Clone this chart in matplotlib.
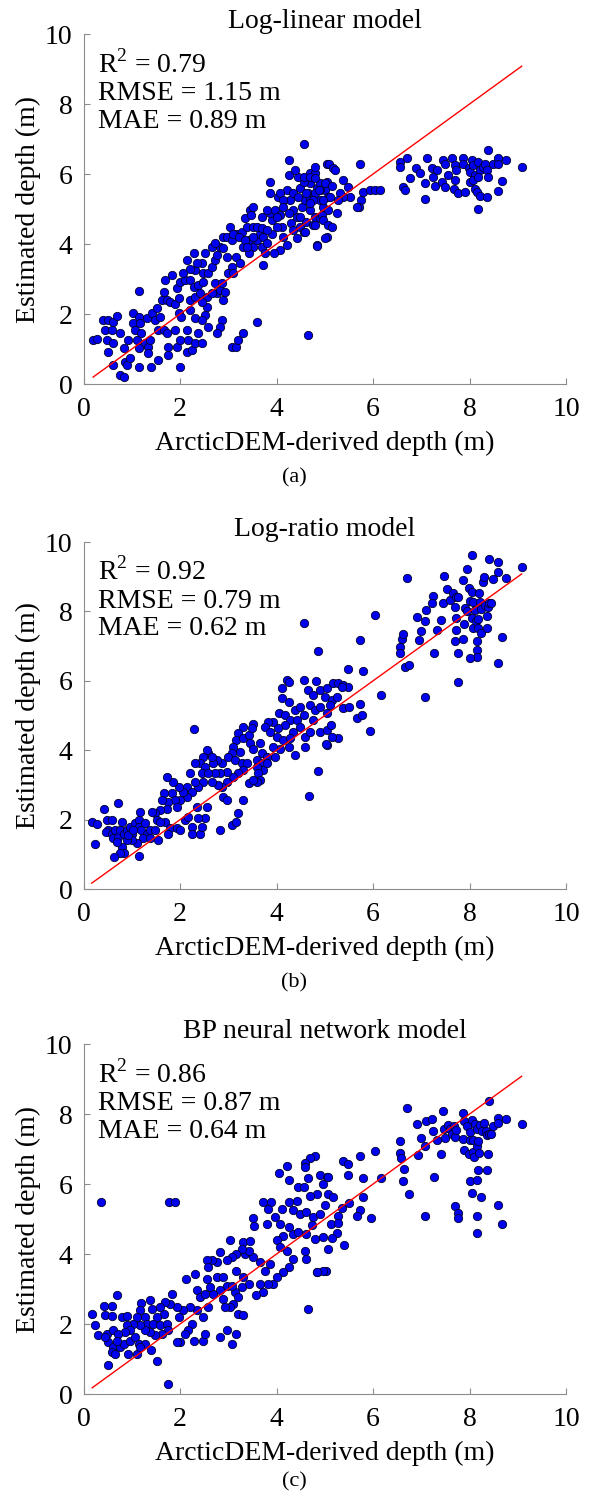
import numpy as np
import matplotlib
matplotlib.use('Agg')
import matplotlib.pyplot as plt

plt.rcParams['font.family'] = ['Liberation Serif', 'DejaVu Serif']
plt.rcParams['mathtext.fontset'] = 'custom'
plt.rcParams['mathtext.rm'] = 'Liberation Serif'

# panel titles and stats
titles = ['Log-linear model', 'Log-ratio model', 'BP neural network model']
r2_vals = ['0.79', '0.92', '0.86']
rmse_vals = ['1.15', '0.79', '0.87']
mae_vals = ['0.89', '0.62', '0.64']
panel_tags = ['(a)', '(b)', '(c)']
ticks = [0, 2, 4, 6, 8, 10]

# (ArcticDEM depth, estimated depth)
loglin_pts = [
    (0.2, 1.26), (0.27, 1.3), (0.41, 1.83), (0.51, 1.83), (0.62, 1.78), (0.7, 1.94), (0.45, 1.54),
    (0.58, 1.54), (0.76, 1.45), (0.48, 1.26), (0.62, 1.16), (0.51, 0.92), (0.62, 0.54), (0.76, 0.26),
    (0.83, 0.21), (0.86, 0.64), (0.9, 0.54), (0.96, 0.73), (0.83, 1.02), (0.93, 1.26), (1.03, 2.02),
    (1.14, 1.92), (1.03, 1.75), (1.17, 1.73), (1.07, 1.54), (1.2, 1.45), (1.1, 1.26), (1.27, 1.16),
    (1.14, 1.02), (1.34, 1.07), (1.38, 1.26), (1.31, 1.88), (1.41, 2.02), (1.52, 2.16), (1.48, 1.83),
    (1.59, 1.92), (1.55, 1.54), (1.66, 1.54), (1.72, 1.45), (1.34, 0.88), (1.14, 0.5), (1.4, 0.5),
    (1.55, 0.69), (1.62, 2.4), (1.72, 2.4), (1.66, 2.64), (1.83, 3.11), (1.69, 2.97), (1.79, 2.35),
    (1.9, 2.3), (1.97, 2.45), (1.93, 2.73), (2.0, 2.92), (2.1, 2.97), (2.21, 2.97), (1.97, 2.02),
    (2.03, 1.92), (1.9, 1.54), (1.76, 1.07), (1.76, 0.83), (1.93, 1.07), (2.0, 1.26), (2.14, 1.54),
    (2.17, 1.26), (2.0, 0.5), (2.14, 0.92), (2.24, 0.97), (2.31, 1.16), (2.45, 1.16), (2.38, 1.45),
    (2.31, 1.88), (2.21, 2.11), (2.21, 2.4), (2.31, 2.5), (2.41, 2.59), (2.28, 2.78), (2.38, 2.83),
    (2.48, 2.92), (2.31, 3.26), (2.45, 3.45), (2.52, 3.73), (2.28, 3.73), (2.14, 3.54), (2.48, 3.17),
    (2.59, 3.17), (2.66, 3.35), (2.72, 3.54), (2.72, 2.88), (2.55, 2.5), (2.55, 2.21), (2.52, 1.97),
    (2.59, 1.64), (2.45, 1.83), (2.76, 2.59), (2.83, 2.69), (2.9, 2.4), (2.93, 2.64), (2.86, 1.83),
    (2.83, 1.64), (2.76, 1.45), (3.07, 1.07), (3.17, 1.07), (3.21, 1.26), (3.31, 1.45), (3.59, 1.78),
    (4.66, 1.4), (1.14, 2.67),
    (2.76, 3.69), (2.83, 3.92), (2.9, 4.21), (3.04, 4.5), (2.97, 3.64), (3.07, 3.35), (3.0, 3.17),
    (3.1, 3.17), (3.17, 3.64), (3.24, 3.45), (3.31, 3.92), (3.17, 4.3), (3.28, 4.35), (3.38, 4.5),
    (3.35, 4.73), (3.45, 4.97), (3.52, 5.07), (3.48, 4.83), (3.52, 4.5), (3.42, 4.11), (3.52, 3.92),
    (3.59, 4.11), (3.66, 4.3), (3.73, 4.21), (3.69, 3.92), (3.76, 3.73), (3.8, 4.02), (3.9, 4.3),
    (3.9, 4.68), (3.87, 4.88), (3.87, 5.45), (3.87, 5.78), (3.97, 4.97), (4.04, 5.35), (4.07, 4.83),
    (4.11, 4.5), (4.14, 4.21), (4.21, 3.97), (4.07, 3.83), (3.94, 3.73), (3.73, 3.4), (3.42, 3.73),
    (4.21, 5.54), (4.28, 5.26), (4.35, 4.97), (4.42, 4.78), (4.31, 4.59), (4.35, 4.4), (4.49, 4.5),
    (4.42, 4.16), (4.52, 5.07), (4.59, 5.26), (4.66, 5.45), (4.69, 5.73), (4.76, 5.97), (4.83, 5.59),
    (4.9, 5.26), (4.97, 5.07), (4.8, 4.78), (4.62, 4.64), (4.76, 4.54), (4.83, 3.97), (5.04, 4.21),
    (4.49, 5.59), (4.56, 5.78), (4.45, 5.92), (4.69, 6.02), (4.8, 6.02), (4.9, 5.73), (5.0, 5.54),
    (5.04, 5.78), (5.07, 5.35), (5.07, 4.97), (4.07, 5.45),
    (4.56, 6.85), (4.25, 6.4), (4.25, 5.97), (4.38, 6.11), (5.05, 6.3),
    (2.97, 4.21), (3.07, 4.11), (3.1, 4.3), (3.23, 4.21), (3.35, 4.11), (3.38, 3.92), (3.59, 4.5),
    (3.69, 4.45), (3.8, 4.4), (4.0, 4.5), (3.69, 4.78), (3.8, 4.97), (3.52, 4.21), (2.9, 3.88),
    (2.66, 3.92), (2.73, 4.02), (2.35, 3.45), (2.21, 3.3), (2.07, 3.17), (2.45, 2.35), (2.86, 2.88),
    (2.66, 2.59), (4.35, 5.45), (4.45, 5.35), (4.69, 5.26), (4.8, 5.45), (4.9, 5.54), (4.69, 4.97),
    (4.9, 4.73), (4.49, 4.78), (4.14, 5.26), (4.14, 5.07), (4.25, 4.88), (4.0, 4.78),
    (4.8, 6.21), (5.08, 6.3), (5.18, 6.16), (5.21, 6.11), (4.56, 5.92), (4.69, 5.92), (4.8, 5.88),
    (5.0, 5.73), (5.14, 5.66), (5.38, 5.83), (5.49, 5.62), (5.73, 6.3), (5.8, 5.5), (5.94, 5.54),
    (6.04, 5.54), (6.14, 5.54), (5.76, 5.26), (5.7, 5.07), (5.66, 5.05), (5.52, 5.33), (5.38, 5.35),
    (5.31, 5.45), (5.28, 5.26), (5.25, 4.88), (5.11, 5.35), (4.97, 5.26), (4.94, 4.83), (4.97, 4.69),
    (5.07, 4.54), (5.14, 4.5), (4.8, 4.54), (4.56, 4.35), (4.59, 4.35), (5.01, 4.16), (4.83, 3.95),
    (4.76, 5.26), (4.87, 5.54), (4.62, 5.45), (4.69, 5.16),
    (6.56, 6.35), (6.56, 6.21), (6.71, 6.45), (6.76, 5.88), (6.63, 5.62), (6.67, 5.54), (6.9, 6.16),
    (6.97, 6.02), (7.11, 6.45), (7.08, 5.73), (7.08, 5.28), (7.22, 6.16), (7.32, 6.11), (7.25, 5.92),
    (7.29, 5.66), (7.42, 5.78), (7.46, 6.4), (7.49, 6.3), (7.49, 5.62), (7.56, 5.97), (7.63, 6.45),
    (7.7, 6.26), (7.73, 6.11), (7.7, 5.83), (7.68, 5.56), (7.77, 5.45), (7.87, 6.45), (7.87, 6.3),
    (7.91, 5.5), (7.98, 6.16), (8.01, 6.06), (8.01, 5.78), (8.05, 6.4), (8.08, 6.26), (8.11, 5.97),
    (8.08, 5.83), (8.11, 5.56), (8.15, 5.5), (8.18, 6.35), (8.22, 6.11), (8.18, 5.92), (8.22, 5.37),
    (8.18, 5.01), (8.28, 6.21), (8.32, 6.3), (8.36, 6.11), (8.39, 5.92), (8.39, 6.69), (8.49, 6.3),
    (8.36, 5.35), (8.6, 6.45), (8.6, 6.3), (8.67, 5.81), (8.58, 5.52), (8.75, 6.4), (9.08, 6.21),
]

logratio_pts = [
    (4.57, 7.66), (4.85, 6.86), (4.11, 5.78), (4.21, 6.02), (4.25, 5.98), (4.57, 6.02), (4.82, 5.99),
    (4.66, 5.75), (4.76, 5.59), (4.9, 5.75), (5.04, 5.78), (5.0, 5.54), (4.11, 5.52), (4.25, 5.4),
    (4.06, 5.06), (4.18, 5.01), (4.28, 4.87), (4.38, 5.16), (4.49, 5.25), (4.56, 5.01), (4.69, 5.3),
    (4.8, 5.16), (4.9, 5.25), (5.04, 5.06), (4.76, 4.87), (4.42, 4.87), (4.49, 4.68), (4.35, 4.53),
    (4.18, 4.73), (4.04, 4.63), (3.93, 4.82), (3.83, 4.82), (3.76, 4.68), (3.87, 4.53), (4.0, 4.39),
    (4.14, 4.29), (4.28, 4.34), (4.25, 4.1), (4.07, 4.05), (4.38, 3.86), (4.59, 4.39), (4.59, 4.1),
    (4.69, 4.53), (4.9, 4.53), (5.04, 4.58), (5.04, 4.15), (4.85, 3.4), (4.68, 2.69),
    (3.52, 4.77), (3.31, 4.68), (3.21, 4.49), (3.17, 4.29), (3.31, 4.34), (3.42, 4.44), (3.45, 4.2),
    (3.52, 4.05), (3.66, 4.2), (3.69, 3.91), (3.59, 3.72), (3.69, 3.62), (3.73, 3.43), (3.59, 3.53),
    (3.62, 3.33), (3.66, 3.14), (3.49, 4.63), (3.24, 3.96), (3.1, 4.1), (3.07, 3.91), (3.0, 3.81),
    (3.14, 3.72), (3.28, 3.62), (3.38, 3.62), (3.31, 3.43), (3.21, 3.33), (3.1, 3.24), (2.97, 3.38),
    (2.86, 3.62), (2.76, 3.72), (2.69, 3.62), (2.83, 3.33), (2.97, 3.09), (2.86, 2.95), (2.9, 2.66),
    (2.97, 2.56), (2.79, 3.0), (2.73, 3.33), (2.59, 3.91), (2.55, 4.0), (2.66, 3.81), (2.48, 3.81),
    (2.41, 3.62), (2.52, 3.53), (2.45, 3.33), (2.59, 3.33), (2.66, 3.09), (2.48, 3.09), (2.38, 2.95),
    (2.28, 4.6), (2.31, 3.62), (2.21, 3.33), (2.31, 3.09), (2.14, 2.95), (2.24, 2.8), (2.14, 2.66),
    (2.0, 2.56), (2.07, 2.8), (1.97, 2.95), (1.86, 3.09), (1.72, 3.24), (1.83, 2.76), (1.9, 2.56),
    (1.76, 2.52), (1.66, 2.76), (1.62, 2.56), (1.72, 2.32), (1.59, 2.28), (1.48, 2.18), (1.41, 2.23),
    (1.52, 1.99), (1.69, 1.94), (1.79, 1.75), (1.93, 1.75), (2.0, 1.7), (2.1, 1.99), (2.17, 2.08),
    (2.24, 1.8), (2.24, 1.6), (2.41, 1.6), (2.45, 1.8), (2.52, 2.04), (2.55, 2.37), (2.35, 2.37),
    (2.38, 2.04), (1.76, 1.6), (1.55, 1.41), (1.93, 2.37), (2.83, 1.7), (3.07, 1.84), (3.17, 1.94),
    (3.21, 2.18), (3.31, 2.56), (3.42, 3.05), (3.59, 3.09), (3.8, 3.81), (3.93, 4.1), (3.97, 3.81),
    (3.8, 3.62), (3.52, 3.14),
    (0.17, 1.94), (0.27, 1.87), (0.24, 1.29), (0.42, 2.3), (0.48, 1.99), (0.58, 2.0), (0.72, 2.49),
    (0.51, 1.7), (0.47, 1.65), (0.58, 1.6), (0.65, 1.7), (0.62, 1.46), (0.72, 1.51), (0.79, 1.94),
    (0.76, 1.7), (0.83, 1.6), (0.9, 1.7), (0.96, 1.8), (1.0, 1.6), (1.07, 1.89), (1.14, 1.99),
    (1.17, 2.23), (1.14, 1.8), (1.2, 1.7), (1.27, 1.89), (1.31, 1.6), (1.38, 1.7), (1.24, 1.46),
    (1.1, 1.32), (1.0, 1.41), (0.9, 1.41), (0.79, 1.22), (0.83, 1.03), (0.76, 1.03), (0.63, 0.91),
    (1.14, 0.95), (1.38, 1.46), (1.48, 1.7), (1.59, 1.94), (0.69, 1.36), (0.93, 1.56), (1.03, 1.7),
    (5.18, 5.93), (5.28, 5.93), (5.38, 5.88), (5.49, 5.83), (5.35, 5.83), (5.14, 5.45), (5.25, 5.54),
    (5.11, 5.3), (5.38, 5.21), (5.51, 5.24), (5.49, 6.33), (5.79, 6.28), (5.73, 5.32), (5.73, 7.18),
    (5.66, 4.94), (5.78, 5.01), (5.28, 4.36), (5.14, 4.39), (5.02, 4.17), (5.13, 4.73), (5.94, 4.55),
    (6.16, 5.59), (6.05, 7.89),
    (6.71, 8.97), (6.55, 6.98), (6.56, 6.81), (6.6, 7.2), (6.63, 7.34), (6.67, 6.41), (6.75, 6.46),
    (6.91, 7.85), (6.95, 7.18), (6.99, 7.44), (7.08, 7.72), (7.1, 8.04), (7.07, 5.54), (7.24, 8.45),
    (7.23, 8.25), (7.26, 6.81), (7.32, 7.46), (7.4, 7.75), (7.46, 8.25), (7.48, 9.02), (7.54, 8.64),
    (7.6, 8.33), (7.66, 8.54), (7.7, 8.14), (7.73, 8.42), (7.77, 8.42), (7.71, 7.8), (7.71, 7.46),
    (7.69, 7.16), (7.77, 6.81), (7.77, 5.98), (7.87, 7.22), (7.89, 7.64), (7.87, 8.9), (7.94, 9.22),
    (7.91, 8.09), (7.98, 8.67), (8.01, 8.31), (8.05, 8.57), (7.94, 8.0), (8.05, 7.82), (8.08, 8.28),
    (8.11, 8.04), (8.08, 7.51), (8.13, 7.73), (8.18, 7.51), (8.19, 8.52), (8.22, 8.28), (8.24, 8.06),
    (8.18, 7.77), (8.23, 7.37), (8.16, 7.16), (8.15, 6.89), (8.16, 6.68), (8.01, 6.65), (8.05, 9.63),
    (8.28, 8.86), (8.31, 8.98), (8.32, 8.19), (8.37, 7.87), (8.39, 8.14), (8.41, 8.23), (8.44, 8.23),
    (8.41, 9.5), (8.48, 8.94), (8.36, 7.51), (8.6, 9.43), (8.6, 9.15), (8.76, 8.97), (8.68, 7.25),
    (8.58, 6.52), (9.08, 9.28),
]

bpnn_pts = [
    (0.36, 5.49), (1.78, 5.49), (1.9, 5.49),
    (4.8, 6.8), (4.69, 6.74), (4.59, 6.6), (4.59, 6.49), (4.21, 6.53), (4.05, 6.32), (4.25, 6.13),
    (4.66, 6.17), (4.9, 6.25), (5.05, 6.2), (4.45, 5.93), (4.56, 5.91), (4.97, 6.01), (4.83, 5.72),
    (4.69, 5.65), (5.07, 5.72), (5.01, 5.41), (4.42, 5.53), (4.25, 5.49), (4.11, 5.3), (4.35, 5.25),
    (4.49, 5.15), (4.62, 5.2), (4.76, 5.06), (4.9, 5.15), (3.71, 5.49), (3.88, 5.49), (3.83, 5.3),
    (3.51, 5.03), (3.53, 4.79), (3.8, 4.87), (3.97, 5.06), (4.07, 4.87), (4.25, 4.77), (4.35, 4.58),
    (4.45, 4.63), (4.62, 4.58), (4.73, 4.82), (4.97, 4.49), (5.07, 4.15), (4.8, 4.42), (4.59, 4.1),
    (4.62, 3.87), (4.83, 3.49), (5.03, 3.53), (4.66, 2.44), (4.14, 4.53), (4.0, 4.39), (4.07, 4.2),
    (4.21, 4.1), (4.35, 3.87), (4.25, 3.63), (4.14, 3.49), (4.0, 3.34), (3.93, 3.15), (3.83, 3.15),
    (3.71, 2.91), (3.57, 2.82), (3.66, 3.15), (3.76, 3.53), (3.87, 3.72), (3.66, 3.77), (3.52, 3.91),
    (3.35, 4.01), (3.42, 4.1), (3.31, 4.34), (3.44, 4.36), (3.28, 4.15), (3.17, 4.01), (3.04, 4.41),
    (3.07, 3.91), (2.97, 3.82), (2.83, 4.06), (2.76, 3.77), (2.66, 3.82), (2.55, 3.82), (2.59, 3.63),
    (2.76, 3.34), (2.9, 3.34), (2.97, 3.1), (2.83, 2.96), (2.69, 2.87), (2.55, 3.29), (2.31, 3.44),
    (2.12, 3.28), (2.35, 2.96), (2.41, 2.77), (2.52, 2.87), (2.62, 3.06), (3.17, 3.53), (3.31, 3.34),
    (3.42, 3.15), (3.28, 3.06), (3.14, 2.91), (3.07, 3.1), (3.21, 2.77), (3.1, 2.58), (3.04, 2.49),
    (2.9, 2.72), (2.93, 2.49), (3.21, 2.3), (3.31, 2.25), (3.17, 1.72), (3.08, 1.44), (2.83, 1.63),
    (2.97, 1.82), (2.59, 2.49), (2.48, 2.2), (2.35, 2.39), (2.21, 2.49), (2.07, 2.39), (2.24, 2.01),
    (2.17, 1.82), (2.1, 1.72), (2.28, 1.53), (2.48, 1.53), (2.52, 1.72), (2.0, 1.49), (1.93, 1.49),
    (1.97, 2.2), (1.93, 2.49), (1.83, 2.87), (1.79, 2.58), (1.69, 2.63), (1.59, 2.49), (1.66, 2.3),
    (1.52, 2.2), (1.41, 2.44), (1.38, 2.7), (1.19, 2.61), (1.17, 2.39), (1.1, 2.2), (1.27, 2.2),
    (1.31, 2.01), (1.45, 2.01), (1.59, 1.96), (1.72, 2.01), (1.76, 1.82), (1.62, 1.72), (1.48, 1.68),
    (1.38, 1.77), (1.27, 1.82), (1.17, 1.96), (1.03, 2.01), (0.9, 1.96), (0.96, 1.82), (0.86, 1.77),
    (0.79, 2.2), (0.9, 2.22), (0.7, 2.84), (0.58, 2.51), (0.42, 2.51), (0.44, 2.25), (0.58, 2.22),
    (0.18, 2.28), (0.24, 1.98), (0.29, 1.68), (0.48, 1.72), (0.62, 1.82), (0.72, 1.72), (0.51, 1.49),
    (0.62, 1.34), (0.58, 1.2), (0.65, 1.15), (0.76, 1.34), (0.83, 1.44), (0.96, 1.53), (1.07, 1.63),
    (1.14, 1.44), (1.1, 1.15), (0.93, 1.15), (1.27, 1.44), (1.39, 1.27), (1.17, 1.34), (0.51, 0.82),
    (1.53, 0.94), (0.44, 1.63), (0.69, 1.53), (1.75, 0.3),
    (5.38, 6.66), (5.49, 6.56), (5.73, 6.79), (6.05, 6.95), (5.49, 6.25), (5.79, 6.18), (6.16, 6.18),
    (5.35, 5.32), (5.51, 5.47), (5.79, 5.63), (5.72, 5.25), (5.66, 5.09), (5.95, 5.04), (5.28, 5.09),
    (5.25, 4.6), (5.4, 4.25), (5.14, 4.47), (5.13, 4.87), (5.28, 4.89), (5.18, 5.63), (5.07, 6.19),
    (4.97, 3.53), (4.83, 3.48),
    (6.71, 8.18), (6.55, 7.22), (6.56, 6.89), (6.57, 6.74), (6.65, 6.42), (6.63, 6.08), (6.75, 5.72),
    (6.91, 7.72), (6.94, 6.82), (6.99, 7.32), (7.08, 7.1), (7.1, 7.79), (7.07, 5.08), (7.23, 7.85),
    (7.24, 7.53), (7.26, 6.2), (7.32, 7.25), (7.4, 6.85), (7.44, 8.08), (7.47, 7.56), (7.49, 7.32),
    (7.55, 7.7), (7.6, 7.58), (7.63, 7.44), (7.68, 7.65), (7.7, 7.34), (7.73, 7.55), (7.69, 5.37),
    (7.77, 5.17), (7.77, 5.02), (7.87, 8.03), (7.89, 7.8), (7.87, 7.3), (7.89, 6.98), (7.94, 7.65),
    (7.98, 6.85), (8.01, 7.49), (8.05, 7.84), (8.0, 7.27), (8.07, 7.27), (8.08, 6.91), (8.11, 7.72),
    (8.1, 6.77), (8.15, 7.58), (8.16, 7.1), (8.18, 7.23), (8.19, 6.9), (8.22, 7.68), (8.25, 7.53),
    (8.31, 7.74), (8.34, 7.53), (8.37, 7.39), (8.41, 7.42), (8.45, 7.42), (8.41, 8.36), (8.48, 7.66),
    (8.39, 6.87), (8.17, 6.39), (8.36, 6.41), (8.01, 6.08), (8.16, 6.12), (8.06, 5.75), (8.23, 5.63),
    (8.58, 7.9), (8.6, 7.74), (8.76, 7.85), (9.08, 7.72), (8.58, 5.39), (8.68, 4.87), (8.15, 5.1),
    (8.16, 4.61),
]

panels = [loglin_pts, logratio_pts, bpnn_pts]

fig = plt.figure(figsize=(5.89, 14.99), dpi=100)

ax_left = 0.1418
ax_width = 0.8192
bottoms = [0.7438, 0.4069, 0.070]
heights = [0.2335, 0.2315, 0.2335]
tag_y = [0.681, 0.344, 0.0115]

for i, pts in enumerate(panels):
    pts = np.array(pts)
    ax = fig.add_axes([ax_left, bottoms[i], ax_width, heights[i]])
    ax.scatter(pts[:, 0], pts[:, 1], s=36, c='#0000f0', edgecolors='#00002a',
               linewidths=0.6, zorder=2)
    lo, hi = pts[:, 0].min(), pts[:, 0].max()
    ax.plot([lo, hi], [lo, hi], color='red', lw=1.0, zorder=3)

    ax.set_xlim(0, 10)
    ax.set_ylim(0, 10)
    ax.set_xticks(ticks)
    ax.set_yticks(ticks)
    for side in ['top', 'right']:
        ax.spines[side].set_visible(False)
    for side in ['left', 'bottom']:
        ax.spines[side].set_color('#8c8c8c')
        ax.spines[side].set_linewidth(0.8)
    ax.tick_params(direction='in', length=4, width=0.8, color='#8c8c8c',
                   labelsize=20, pad=9)
    ax.tick_params(axis='y', pad=8)
    ax.set_title(titles[i], fontsize=20, pad=3)
    ax.set_xlabel('ArcticDEM-derived depth (m)', fontsize=20, labelpad=7)
    ax.set_ylabel('Estimated depth (m)', fontsize=20, labelpad=3)

    ax.text(0.03, 0.891, 'R$^2$ = ' + r2_vals[i], transform=ax.transAxes,
            fontsize=20, va='baseline')
    ax.text(0.03, 0.811, 'RMSE = ' + rmse_vals[i] + ' m', transform=ax.transAxes,
            fontsize=20, va='baseline')
    ax.text(0.03, 0.731, 'MAE = ' + mae_vals[i] + ' m', transform=ax.transAxes,
            fontsize=20, va='baseline')

    fig.text(0.5, tag_y[i], panel_tags[i], ha='center', va='center', fontsize=16)

fig.savefig('out.png', dpi=100)
